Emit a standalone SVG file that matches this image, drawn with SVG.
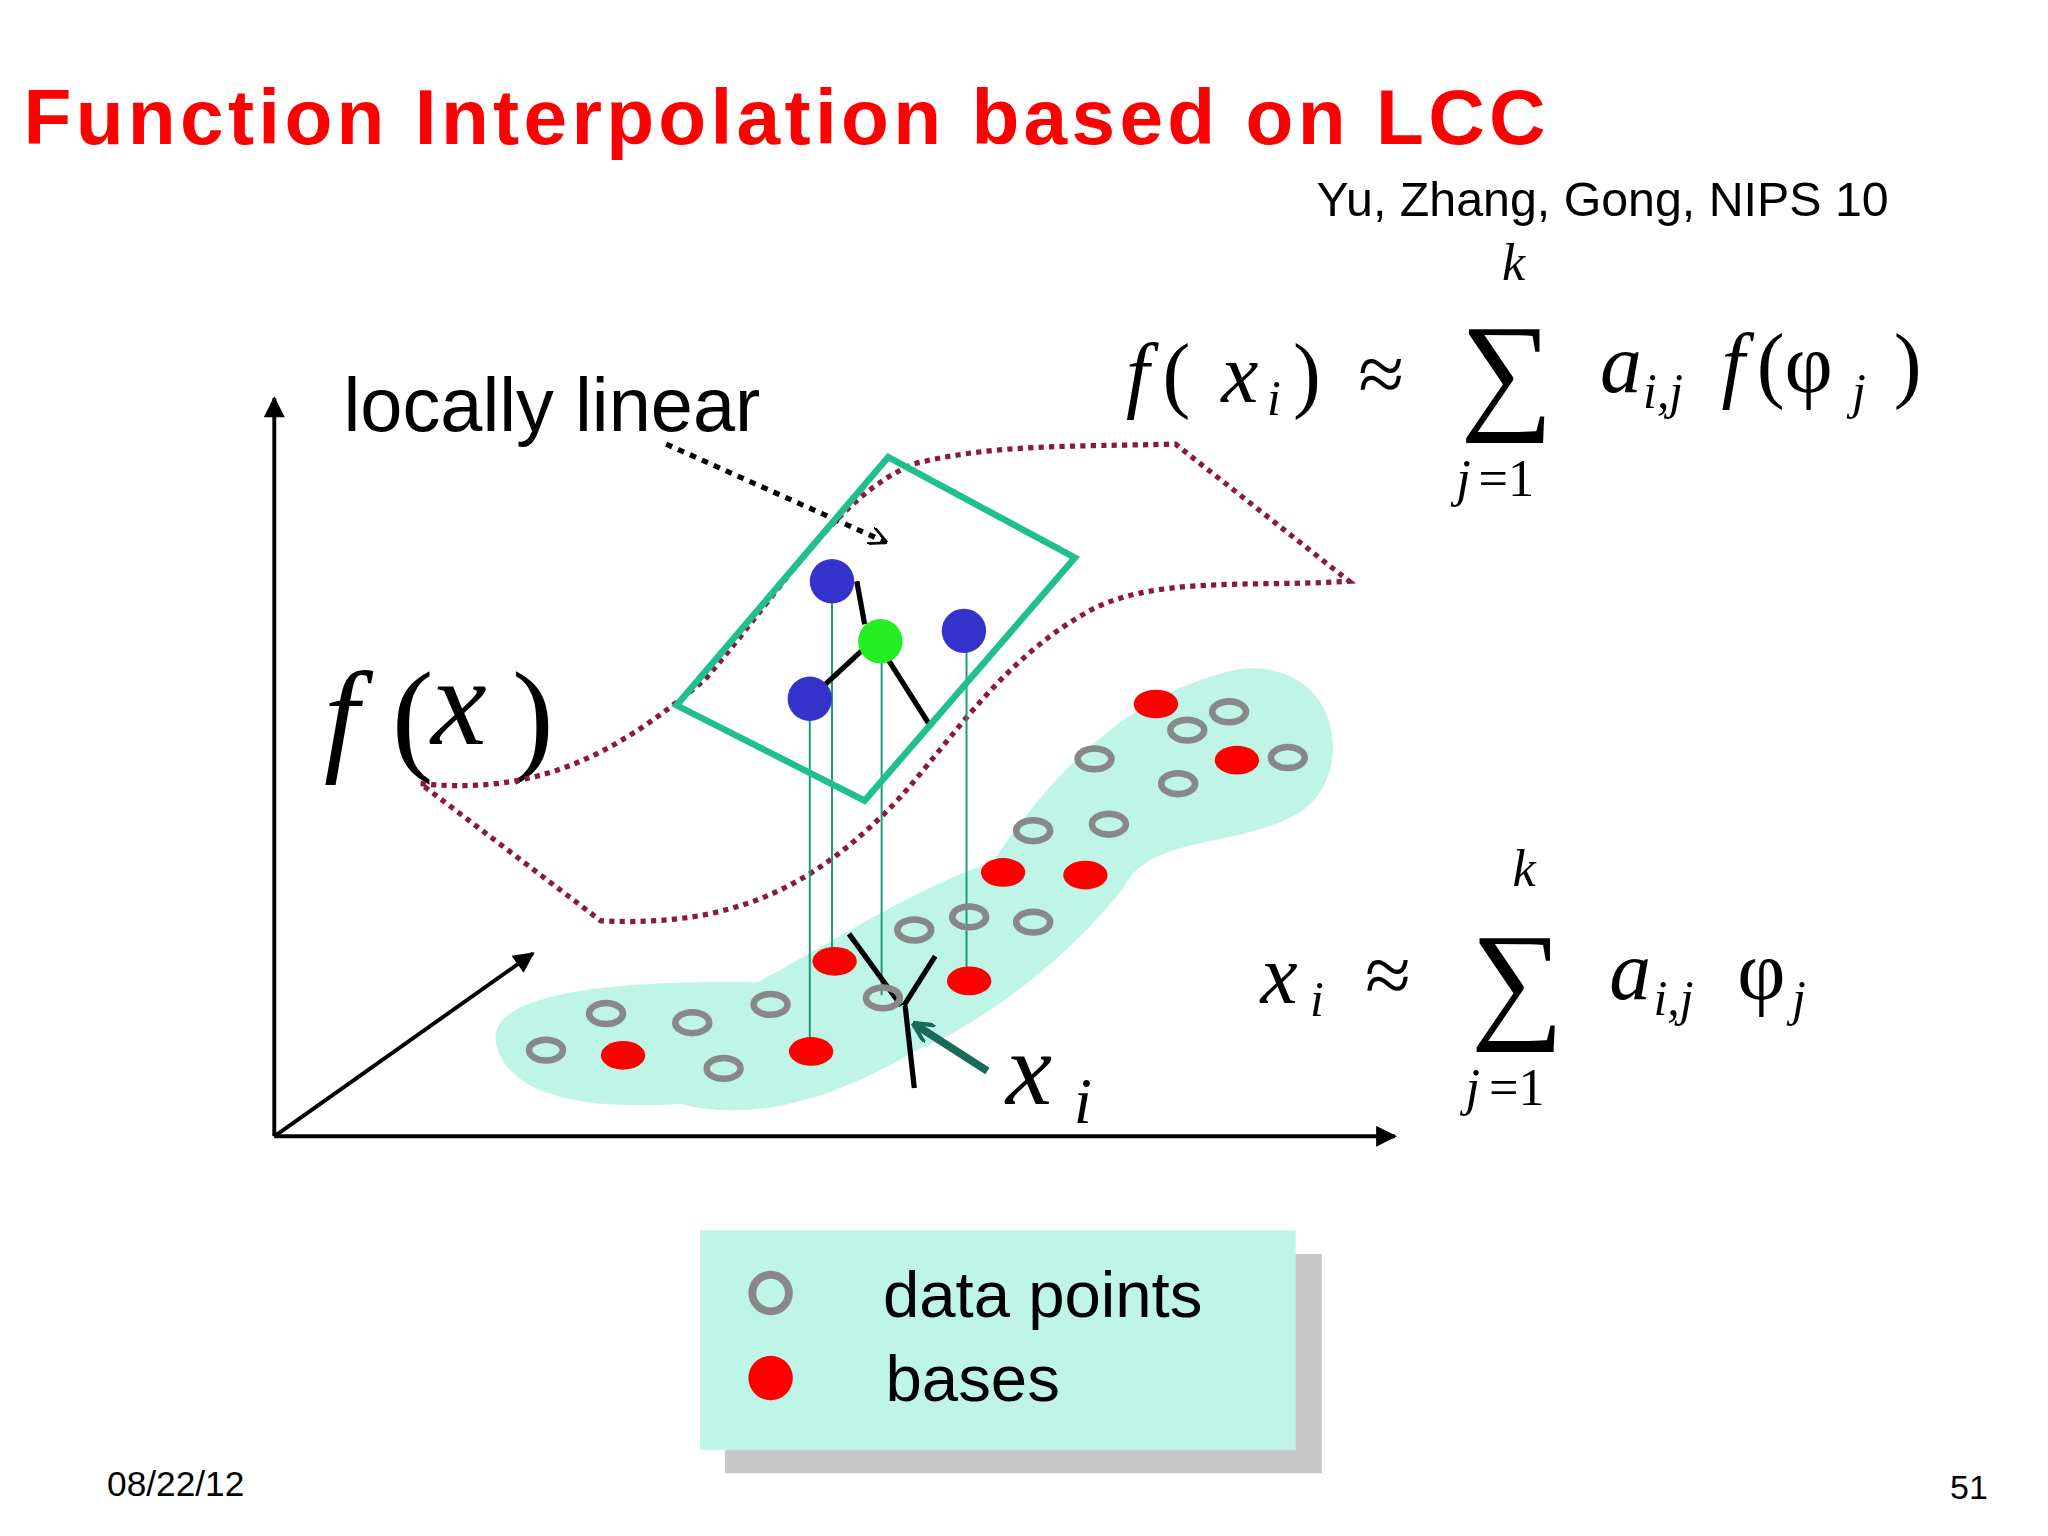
<svg xmlns="http://www.w3.org/2000/svg" width="2048" height="1536" viewBox="0 0 2048 1536">
<style>
.s{font-family:"Liberation Sans",Arial,sans-serif}
.m{font-family:"Liberation Serif","DejaVu Serif",serif;font-style:italic}
.r{font-family:"Liberation Serif","DejaVu Serif",serif}
.ring{fill:none;stroke:#888;stroke-width:5}
.base{fill:#f00}
.vl{stroke:#1a9a7a;stroke-width:1.5}
.bk{stroke:#000;stroke-width:4}
</style>
<defs>
<marker id="ah" viewBox="0 0 10 10" refX="9" refY="5" markerWidth="20" markerHeight="16" orient="auto" markerUnits="userSpaceOnUse"><path d="M0,0L10,5L0,10z" fill="#000"/></marker>
<marker id="ao" viewBox="0 0 10 10" refX="9" refY="5" markerWidth="14" markerHeight="14" orient="auto" markerUnits="userSpaceOnUse"><path d="M0,0L10,5L0,10" fill="none" stroke="#000" stroke-width="1.5"/></marker>
<marker id="at" viewBox="0 0 10 10" refX="9" refY="5" markerWidth="16" markerHeight="16" orient="auto" markerUnits="userSpaceOnUse"><path d="M0,0L10,5L0,10" fill="none" stroke="#1a6a5a" stroke-width="2"/></marker>
</defs>
<rect width="2048" height="1536" fill="#fff"/>
<g transform="scale(1.30612)">
<text class="s" x="18" y="110" font-size="60" font-weight="bold" fill="#f00" letter-spacing="3.3">Function Interpolation based on LCC</text>
<text class="s" x="1008" y="165" font-size="37">Yu, Zhang, Gong, NIPS 10</text>
<g id="formula1">
<text class="m" x="862" y="308" font-size="64">f</text>
<text class="r" x="890" y="308" font-size="64">(</text>
<text class="m" x="935" y="308" font-size="64">x</text><text class="m" x="970" y="318" font-size="38">i</text>
<text class="r" x="990" y="308" font-size="64">)</text>
<text class="r" x="1040" y="308" font-size="64">≈</text>
<text class="r" x="1118" y="318" font-size="100">∑</text>
<text class="m" x="1150" y="214" font-size="40">k</text>
<text class="m" x="1115" y="380" font-size="40">j</text><text class="r" x="1132" y="380" font-size="40">=1</text>
<text class="m" x="1225" y="300" font-size="64">a</text><text class="m" x="1258" y="312" font-size="38">i,j</text>
<text class="m" x="1318" y="300" font-size="64">f</text><text class="r" x="1345" y="300" font-size="64">(φ</text><text class="m" x="1418" y="312" font-size="38">j</text><text class="r" x="1450" y="300" font-size="64">)</text>
</g>
<g id="formula2">
<text class="m" x="965" y="768" font-size="64">x</text><text class="m" x="1003" y="778" font-size="38">i</text>
<text class="r" x="1045" y="768" font-size="64">≈</text>
<text class="r" x="1126" y="784" font-size="100">∑</text>
<text class="m" x="1158" y="678" font-size="40">k</text>
<text class="m" x="1122" y="846" font-size="40">j</text><text class="r" x="1140" y="846" font-size="40">=1</text>
<text class="m" x="1232" y="765" font-size="64">a</text><text class="m" x="1266" y="777" font-size="38">i,j</text><text class="r" x="1330" y="765" font-size="64">φ</text><text class="m" x="1372" y="777" font-size="38">j</text>
</g>
<g id="axes">
<line x1="210" y1="870" x2="210" y2="305" stroke="#000" stroke-width="3" marker-end="url(#ah)"/>
<line x1="210" y1="870" x2="1068" y2="870" stroke="#000" stroke-width="3" marker-end="url(#ah)"/>
<line x1="210" y1="870" x2="408" y2="730" stroke="#000" stroke-width="3" marker-end="url(#ah)"/>
</g>
<text class="s" x="263" y="330" font-size="58">locally linear</text>
<text class="m" x="248" y="580" font-size="96">f</text><text class="r" x="300" y="580" font-size="96">(</text><text class="m" x="330" y="570" font-size="96">x</text><text class="r" x="392" y="580" font-size="96">)</text>
<path id="blob" d="M380,800 C370,760 470,750 580,752 C640,720 700,680 760,660 C800,600 860,530 950,512 C1030,505 1040,600 990,625 C940,650 880,640 860,680 C820,730 760,780 700,805 C640,840 580,860 520,845 C450,850 390,840 380,800Z" fill="#bff5e6"/>
<path id="surface" d="M322,600 C420,610 480,570 540,520 C600,450 640,380 700,355 C760,340 820,342 900,340 L1033,445 C960,450 880,440 830,470 C760,510 720,580 680,620 C620,680 560,710 460,705 Z" fill="none" stroke="#8b1a3a" stroke-width="4" stroke-dasharray="4 4"/>
<g id="connectors">
<line x1="510" y1="340" x2="678" y2="415" stroke="#000" stroke-width="4" stroke-dasharray="5 5" marker-end="url(#ao)"/>
<line class="vl" x1="620" y1="535" x2="620" y2="805"/>
<line class="vl" x1="637" y1="445" x2="637" y2="735"/>
<line class="vl" x1="675" y1="491" x2="675" y2="762"/>
<line class="vl" x1="740" y1="483" x2="740" y2="750"/>
<line class="bk" x1="656" y1="445" x2="662" y2="478"/>
<line class="bk" x1="620" y1="535" x2="660" y2="498"/>
<line class="bk" x1="680" y1="505" x2="713" y2="557"/>
<line class="bk" x1="650" y1="715" x2="690" y2="770"/>
<line class="bk" x1="716" y1="732" x2="692" y2="770"/>
<line class="bk" x1="693" y1="770" x2="700" y2="833"/>
<line x1="756" y1="820" x2="700" y2="784" stroke="#1a6a5a" stroke-width="6" marker-end="url(#at)"/>
</g>
<polygon id="plane" points="680,350 823,427 662,613 518,540" fill="none" stroke="#1fbf8f" stroke-width="5"/>
<g id="bases">
<ellipse class="base" cx="477" cy="808" rx="17" ry="11"/>
<ellipse class="base" cx="621" cy="805" rx="17" ry="11"/>
<ellipse class="base" cx="639" cy="736" rx="17" ry="11"/>
<ellipse class="base" cx="742" cy="751" rx="17" ry="11"/>
<ellipse class="base" cx="768" cy="668" rx="17" ry="11"/>
<ellipse class="base" cx="831" cy="670" rx="17" ry="11"/>
<ellipse class="base" cx="885" cy="539" rx="17" ry="11"/>
<ellipse class="base" cx="947" cy="582" rx="17" ry="11"/>
</g>
<g id="datapoints">
<ellipse class="ring" cx="418" cy="804" rx="13" ry="8"/>
<ellipse class="ring" cx="464" cy="776" rx="13" ry="8"/>
<ellipse class="ring" cx="530" cy="783" rx="13" ry="8"/>
<ellipse class="ring" cx="554" cy="818" rx="13" ry="8"/>
<ellipse class="ring" cx="590" cy="769" rx="13" ry="8"/>
<ellipse class="ring" cx="676" cy="764" rx="13" ry="8"/>
<ellipse class="ring" cx="700" cy="712" rx="13" ry="8"/>
<ellipse class="ring" cx="742" cy="702" rx="13" ry="8"/>
<ellipse class="ring" cx="791" cy="706" rx="13" ry="8"/>
<ellipse class="ring" cx="791" cy="636" rx="13" ry="8"/>
<ellipse class="ring" cx="849" cy="631" rx="13" ry="8"/>
<ellipse class="ring" cx="838" cy="581" rx="13" ry="8"/>
<ellipse class="ring" cx="902" cy="600" rx="13" ry="8"/>
<ellipse class="ring" cx="909" cy="559" rx="13" ry="8"/>
<ellipse class="ring" cx="941" cy="545" rx="13" ry="8"/>
<ellipse class="ring" cx="986" cy="580" rx="13" ry="8"/>
</g>
<g id="coded">
<circle cx="637" cy="445" r="17" fill="#3333cc"/>
<circle cx="738" cy="483" r="17" fill="#3333cc"/>
<circle cx="620" cy="535" r="17" fill="#3333cc"/>
<circle cx="674" cy="491" r="17" fill="#22ee22"/>
</g>
<text class="m" x="770" y="845" font-size="80">x</text><text class="m" x="822" y="860" font-size="50">i</text>
<g id="legend">
<rect x="555" y="960" width="457" height="168" fill="#c8c8c8"/>
<rect x="536" y="942" width="456" height="168" fill="#bff5e6"/>
<circle cx="590" cy="990" r="14" fill="none" stroke="#888" stroke-width="6"/>
<circle cx="590" cy="1055" r="17" fill="#f00"/>
<text class="s" x="676" y="1008" font-size="50">data points</text>
<text class="s" x="678" y="1073" font-size="50">bases</text>
</g>
<text class="s" x="82" y="1145" font-size="27">08/22/12</text>
<text class="s" x="1493" y="1148" font-size="26">51</text>
</g>
</svg>
